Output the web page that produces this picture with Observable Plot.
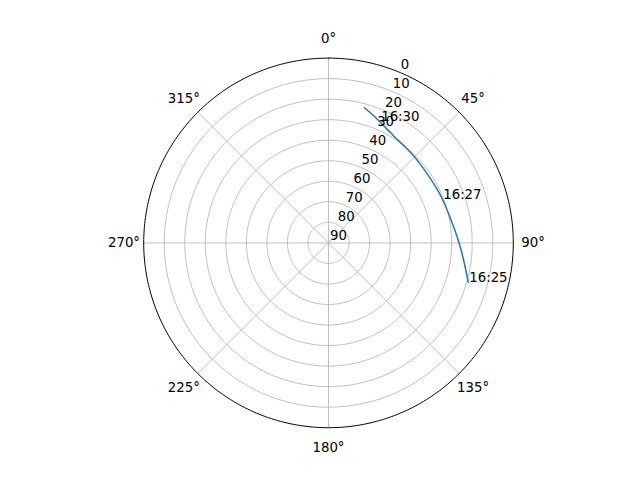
<!DOCTYPE html>
<html><head><meta charset="utf-8">
<script src="https://cdn.jsdelivr.net/npm/d3@7"></script>
<script src="https://cdn.jsdelivr.net/npm/@observablehq/plot@0.6"></script>
<style>body{margin:0;background:#fff}</style>
</head><body><div id="chart"></div>
<script>
// Satellite pass: azimuth (deg, clockwise from north) and elevation (deg)
const azimuth   = [105.7, 97.4, 89.7, 78.8, 68.8, 62.5, 57.9, 51.1, 44.3, 38.8, 33.0, 30.1, 25.1, 20.4, 14.9];
const elevation = [19.3, 23.6, 26.5, 29.4, 30.6, 31.1, 31.3, 31.2, 30.7, 30.2, 29.4, 28.6, 26.9, 24.7, 21.9];
const labelTimes = ["16:25", "16:27", "16:30"];
const labelAzimuth = [105.7, 68.8, 23.0];
const labelElevation = [19.3, 30.6, 25.6];
const radialTicks = [0, 10, 20, 30, 40, 50, 60, 70, 80, 90];
const angleTicks = [0, 45, 90, 135, 180, 225, 270, 315];

const rad = d => d * Math.PI / 180;
const px = (az, el) => (90 - el) * Math.sin(rad(az));
const py = (az, el) => (90 - el) * Math.cos(rad(az));

const track = azimuth.map((a, i) => ({x: px(a, elevation[i]), y: py(a, elevation[i])}));
const timeLabels = labelTimes.map((t, i) => ({t, x: px(labelAzimuth[i], labelElevation[i]), y: py(labelAzimuth[i], labelElevation[i])}));

const ringPts = [];
for (const L of radialTicks.filter(v => v > 0 && v < 90)) {
  for (let t = 0; t <= 360; t += 2) ringPts.push({ring: L, x: px(t, L), y: py(t, L)});
}
const outerPts = d3.range(0, 361, 1).map(t => ({x: px(t, 0), y: py(t, 0)}));
const spokes = angleTicks.map(a => ({x1: 0, y1: 0, x2: px(a, 0), y2: py(a, 0)}));
const angleLabels = angleTicks.map(a => ({text: `${a}°`, x: px(a, -9.6), y: py(a, -9.6)}));
const radialLabels = radialTicks.map(L => ({text: String(L), x: px(22.5, L), y: py(22.5, L)}));

const chart = Plot.plot({
  width: 640,
  height: 480,
  margin: 0,
  style: {fontFamily: "DejaVu Sans", fontSize: "13.3px", background: "#fff"},
  x: {domain: [-90, 90], range: [143.2, 512.8], axis: null},
  y: {domain: [-90, 90], range: [427.2, 57.6], axis: null},
  marks: [
    Plot.line(ringPts, {x: "x", y: "y", z: "ring", stroke: "#b0b0b0", strokeWidth: 0.8}),
    Plot.link(spokes, {x1: "x1", y1: "y1", x2: "x2", y2: "y2", stroke: "#b0b0b0", strokeWidth: 0.8}),
    Plot.line(outerPts, {x: "x", y: "y", stroke: "#000", strokeWidth: 1}),
    Plot.line(track, {x: "x", y: "y", stroke: "#1f77b4", strokeWidth: 1.5, curve: "catmull-rom"}),
    Plot.text(radialLabels, {x: "x", y: "y", text: "text", textAnchor: "start", lineAnchor: "bottom", dx: 1.5, dy: -3.4, fill: "#000"}),
    Plot.text(angleLabels, {x: "x", y: "y", text: "text", textAnchor: "middle", lineAnchor: "middle", fill: "#000"}),
    Plot.text(timeLabels, {x: "x", y: "y", text: "t", textAnchor: "start", lineAnchor: "bottom", dx: 1, fill: "#000"})
  ]
});
document.getElementById("chart").appendChild(chart);
</script>
</body></html>
